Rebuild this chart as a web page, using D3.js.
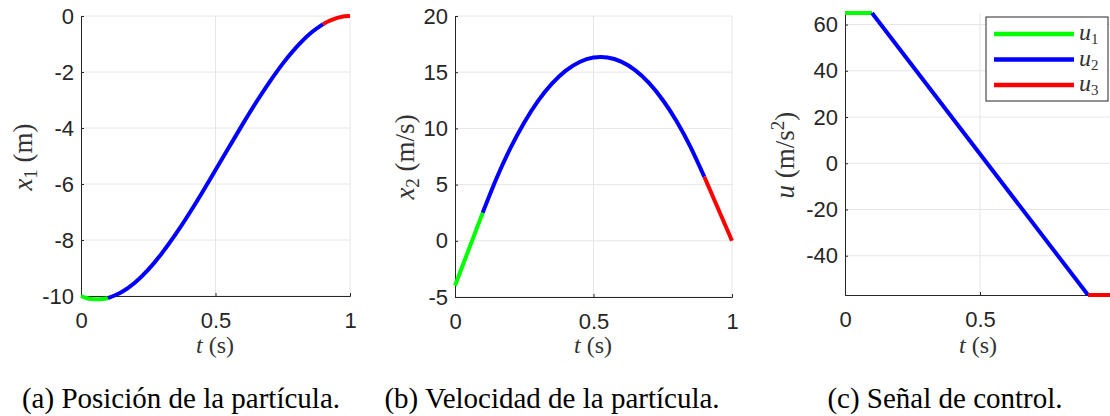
<!DOCTYPE html>
<html>
<head>
<meta charset="utf-8">
<script src="https://cdn.jsdelivr.net/npm/d3@7"></script>
<style>
  body { margin: 0; background: #fff; }
  .lbl { font-family: 'Liberation Serif', 'Times New Roman', serif; font-size: 24px; fill: #333; }
  .cap { font-family: 'Liberation Serif', 'Times New Roman', serif; font-size: 29px; fill: #000; }
</style>
</head>
<body>
<div id="chart"></div>
<script>
// time samples for each control phase
let tGreen = [0, 0.02, 0.04, 0.06, 0.08, 0.1]
let tBlue = [0.1, 0.15, 0.2, 0.25, 0.3, 0.35, 0.4, 0.45, 0.5, 0.55, 0.6, 0.65, 0.7, 0.75, 0.8, 0.85, 0.9]
let tRed = [0.9, 0.92, 0.94, 0.96, 0.98, 1]

// position x1 (m)
let x1Green = [-10, -10.07, -10.11, -10.12, -10.11, -10.08]
let x1Blue = [-10.08, -9.87, -9.53, -9.06, -8.48, -7.82, -7.09, -6.31, -5.5, -4.69, -3.88, -3.1, -2.37, -1.7, -1.12, -0.64, -0.29]
let x1Red = [-0.29, -0.19, -0.11, -0.05, -0.01, 0]

// velocity x2 (m/s)
let x2GreenT = [0, 0.1], x2Green = [-4, 2.5]
let x2Blue = [2.5, 5.56, 8.24, 10.53, 12.45, 13.98, 15.14, 15.91, 16.3, 16.31, 15.94, 15.18, 14.05, 12.53, 10.64, 8.36, 5.7]
let x2RedT = [0.9, 1], x2Red = [5.7, 0]

// control u (m/s^2)
let uGreenT = [0, 0.1], uGreen = [65, 65]
let uBlueT = [0.1, 0.9], uBlue = [65, -57]
let uRedT = [0.9, 1], uRed = [-57, -57]

let xTicks = [0, 0.5, 1]
let x1Ticks = [-10, -8, -6, -4, -2, 0]
let x2Ticks = [-5, 0, 5, 10, 15, 20]
let uTicks = [-40, -20, 0, 20, 40, 60]

let captions = ['(a) Posición de la partícula.', '(b) Velocidad de la partícula.', '(c) Señal de control.']
let legendLabels = ['1', '2', '3']

let colors = { green: '#00ff00', blue: '#0000ff', red: '#ff0000' }

let zip = (ts, vs) => ts.map((t, i) => [t, vs[i]])

let panels = [
  {
    left: 81, right: 350, top: 16, bottom: 296,
    domain: [-10, 0], ticks: x1Ticks,
    segs: [[zip(tGreen, x1Green), colors.green], [zip(tBlue, x1Blue), colors.blue], [zip(tRed, x1Red), colors.red]],
    ylab: { x: 32, cy: 157, main: 'x', sub: '1', rest: ' (m)' },
    xlab: 215, caption: 181
  },
  {
    left: 455, right: 732, top: 16, bottom: 297,
    domain: [-5, 20], ticks: x2Ticks,
    segs: [[zip(x2GreenT, x2Green), colors.green], [zip(tBlue, x2Blue), colors.blue], [zip(x2RedT, x2Red), colors.red]],
    ylab: { x: 414, cy: 157, main: 'x', sub: '2', rest: ' (m/s)' },
    xlab: 593, caption: 552
  },
  {
    left: 845, right: 1115, top: 13, bottom: 295,
    domain: d3.extent(uGreen.concat(uBlue, uRed)), ticks: uTicks,
    segs: [[zip(uGreenT, uGreen), colors.green], [zip(uBlueT, uBlue), colors.blue], [zip(uRedT, uRed), colors.red]],
    ylab: { x: 794, cy: 155, main: 'u', sup: '2', rest: ' (m/s' },
    xlab: 978, caption: 945
  }
]

let width = 1110, height = 416

let svg = d3.select('#chart')
  .append('svg')
  .attr('width', width)
  .attr('height', height)

panels.forEach((p, pi) => {
  let x = d3.scaleLinear().domain([0, 1]).range([p.left, p.right])
  let y = d3.scaleLinear().domain(p.domain).range([p.bottom, p.top])
  let g = svg.append('g')

  // grid
  g.selectAll('.hgrid').data(p.ticks).enter().append('line')
    .attr('x1', p.left).attr('x2', p.right)
    .attr('y1', d => y(d)).attr('y2', d => y(d))
    .attr('stroke', '#e6e6e6').attr('stroke-width', 1)
  g.selectAll('.vgrid').data(xTicks.filter(d => d > 0)).enter().append('line')
    .attr('x1', d => x(d)).attr('x2', d => x(d))
    .attr('y1', p.top).attr('y2', p.bottom)
    .attr('stroke', '#e6e6e6').attr('stroke-width', 1)

  // axes, ticks pointing inward like matlab
  let xAxis = d3.axisBottom(x).tickValues(xTicks).tickSize(-3).tickPadding(16)
    .tickFormat(d => String(d))
  let yAxis = d3.axisLeft(y).tickValues(p.ticks).tickSize(-3).tickPadding(7)
    .tickFormat(d => String(d))

  let gx = g.append('g').attr('transform', `translate(0,${p.bottom})`).call(xAxis)
  let gy = g.append('g').attr('transform', `translate(${p.left},0)`).call(yAxis)
  ;[gx, gy].forEach(a => {
    a.select('.domain').attr('stroke', '#262626').attr('stroke-width', 1)
    a.selectAll('.tick line').attr('stroke', '#262626')
    a.attr('font-size', 22).attr('font-family', "'Liberation Sans', Arial, sans-serif")
    a.selectAll('.tick text')
      .style('font-family', "'Liberation Sans', Arial, sans-serif")
      .style('font-size', '22px')
      .attr('fill', '#262626')
  })

  // curves
  let line = d3.line().x(d => x(d[0])).y(d => y(d[1])).curve(d3.curveNatural)
  p.segs.forEach(s => {
    g.append('path')
      .datum(s[0])
      .attr('d', line)
      .attr('fill', 'none')
      .attr('stroke', s[1])
      .attr('stroke-width', 4)
  })

  // x label
  let xl = g.append('text').attr('class', 'lbl')
    .attr('x', p.xlab)
    .attr('y', 353)
    .attr('text-anchor', 'middle')
  xl.append('tspan').attr('font-style', 'italic').text('t')
  xl.append('tspan').text(' (s)')

  // y label
  let yl = g.append('text').attr('class', 'lbl')
    .style('font-size', '27px')
    .attr('transform', `translate(${p.ylab.x},${p.ylab.cy}) rotate(-90)`)
    .attr('text-anchor', 'middle')
  yl.append('tspan').attr('font-style', 'italic').text(p.ylab.main)
  if (p.ylab.sub) {
    yl.append('tspan').style('font-size', '19px').attr('dy', 5).text(p.ylab.sub)
    yl.append('tspan').attr('dy', -5).text(p.ylab.rest)
  } else {
    yl.append('tspan').text(p.ylab.rest)
    yl.append('tspan').style('font-size', '19px').attr('dy', -10).text(p.ylab.sup)
    yl.append('tspan').attr('dy', 10).text(')')
  }

  // caption
  svg.append('text').attr('class', 'cap')
    .attr('x', p.caption)
    .attr('y', 408)
    .attr('text-anchor', 'middle')
    .text(captions[pi])
})

// legend in panel c
let legend = svg.append('g').attr('transform', 'translate(986,17)')
legend.append('rect')
  .attr('width', 122).attr('height', 84)
  .attr('fill', '#fff').attr('stroke', '#262626').attr('stroke-width', 1)
let legColors = [colors.green, colors.blue, colors.red]
legColors.forEach((c, i) => {
  let yy = 17 + i * 25.5
  legend.append('line')
    .attr('x1', 8).attr('x2', 88)
    .attr('y1', yy).attr('y2', yy)
    .attr('stroke', c).attr('stroke-width', 4.5)
  let t = legend.append('text').attr('class', 'lbl')
    .attr('x', 93).attr('y', yy + 6)
  t.append('tspan').attr('font-style', 'italic').text('u')
  t.append('tspan').style('font-size', '15px').attr('dy', 4).text(legendLabels[i])
})
</script>
</body>
</html>
